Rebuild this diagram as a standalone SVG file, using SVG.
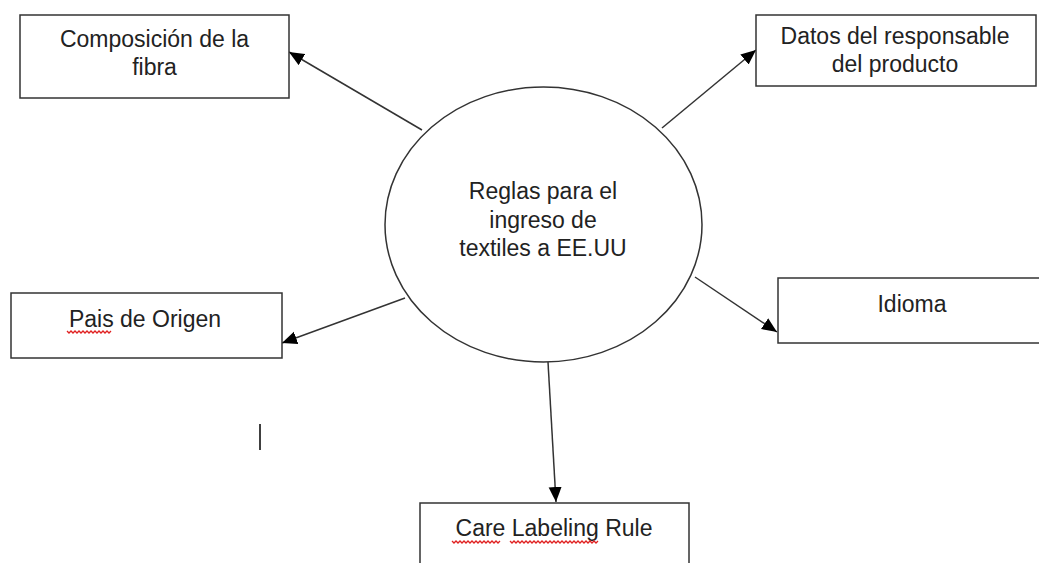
<svg xmlns="http://www.w3.org/2000/svg" width="1039" height="563" viewBox="0 0 1039 563">
<defs>
<style>
.box{fill:#fff;stroke:#333;stroke-width:1.5}
.lbl{font-family:"Liberation Sans",Arial,sans-serif;font-size:23px;fill:#222;text-anchor:middle}
.conn{stroke:#333;stroke-width:1.5;fill:none}
.sq{stroke:#e02020;stroke-width:1.3;fill:none}
</style>
<marker id="ah" markerUnits="userSpaceOnUse" markerWidth="16" markerHeight="14" refX="15" refY="6.5" orient="auto">
<path d="M0,0 L15,6.5 L0,13 z" fill="#000"/>
</marker>
</defs>
<rect width="1039" height="563" fill="#fff"/>
<g id="connectors">
<line class="conn" x1="422" y1="130" x2="289" y2="52" marker-end="url(#ah)"/>
<line class="conn" x1="662" y1="128" x2="756" y2="50" marker-end="url(#ah)"/>
<line class="conn" x1="405" y1="298" x2="282" y2="343" marker-end="url(#ah)"/>
<line class="conn" x1="695" y1="277" x2="777" y2="332" marker-end="url(#ah)"/>
<line class="conn" x1="548" y1="362" x2="556" y2="502" marker-end="url(#ah)"/>
</g>
<g id="center">
<ellipse class="box" cx="543.5" cy="224.5" rx="158.5" ry="137.5"/>
<text class="lbl" x="543" y="199">Reglas para el</text>
<text class="lbl" x="543" y="227.5">ingreso de</text>
<text class="lbl" x="543" y="256">textiles a EE.UU</text>
</g>
<g id="composicion">
<rect class="box" x="20" y="15" width="269" height="83"/>
<text class="lbl" x="154.5" y="47">Composición de la</text>
<text class="lbl" x="154.5" y="75">fibra</text>
</g>
<g id="datos">
<rect class="box" x="756" y="15" width="280" height="71"/>
<text class="lbl" x="895" y="44">Datos del responsable</text>
<text class="lbl" x="895" y="72">del producto</text>
</g>
<g id="pais">
<rect class="box" x="11" y="293" width="271" height="65"/>
<text class="lbl" x="145" y="327">Pais de Origen</text>
<path class="sq" d="M67,331 l2,2 l2,-2 l2,2 l2,-2 l2,2 l2,-2 l2,2 l2,-2 l2,2 l2,-2 l2,2 l2,-2 l2,2 l2,-2 l2,2 l2,-2 l2,2 l2,-2 l2,2 l2,-2 l2,2 l2,-2"/>
</g>
<g id="idioma">
<rect class="box" x="778" y="278" width="270" height="65"/>
<text class="lbl" x="912" y="312">Idioma</text>
</g>
<g id="care">
<rect class="box" x="420" y="503" width="269" height="70"/>
<text class="lbl" x="554" y="536">Care Labeling Rule</text>
<path class="sq" d="M452,541 l2,2 l2,-2 l2,2 l2,-2 l2,2 l2,-2 l2,2 l2,-2 l2,2 l2,-2 l2,2 l2,-2 l2,2 l2,-2 l2,2 l2,-2 l2,2 l2,-2 l2,2 l2,-2 l2,2 l2,-2 l2,2 l2,-2"/>
<path class="sq" d="M510,541 l2,2 l2,-2 l2,2 l2,-2 l2,2 l2,-2 l2,2 l2,-2 l2,2 l2,-2 l2,2 l2,-2 l2,2 l2,-2 l2,2 l2,-2 l2,2 l2,-2 l2,2 l2,-2 l2,2 l2,-2 l2,2 l2,-2 l2,2 l2,-2 l2,2 l2,-2 l2,2 l2,-2 l2,2 l2,-2 l2,2 l2,-2 l2,2 l2,-2 l2,2 l2,-2 l2,2 l2,-2 l2,2 l2,-2 l2,2 l2,-2"/>
</g>
<line x1="260" y1="424" x2="260" y2="450" stroke="#000" stroke-width="1.5"/>
</svg>
